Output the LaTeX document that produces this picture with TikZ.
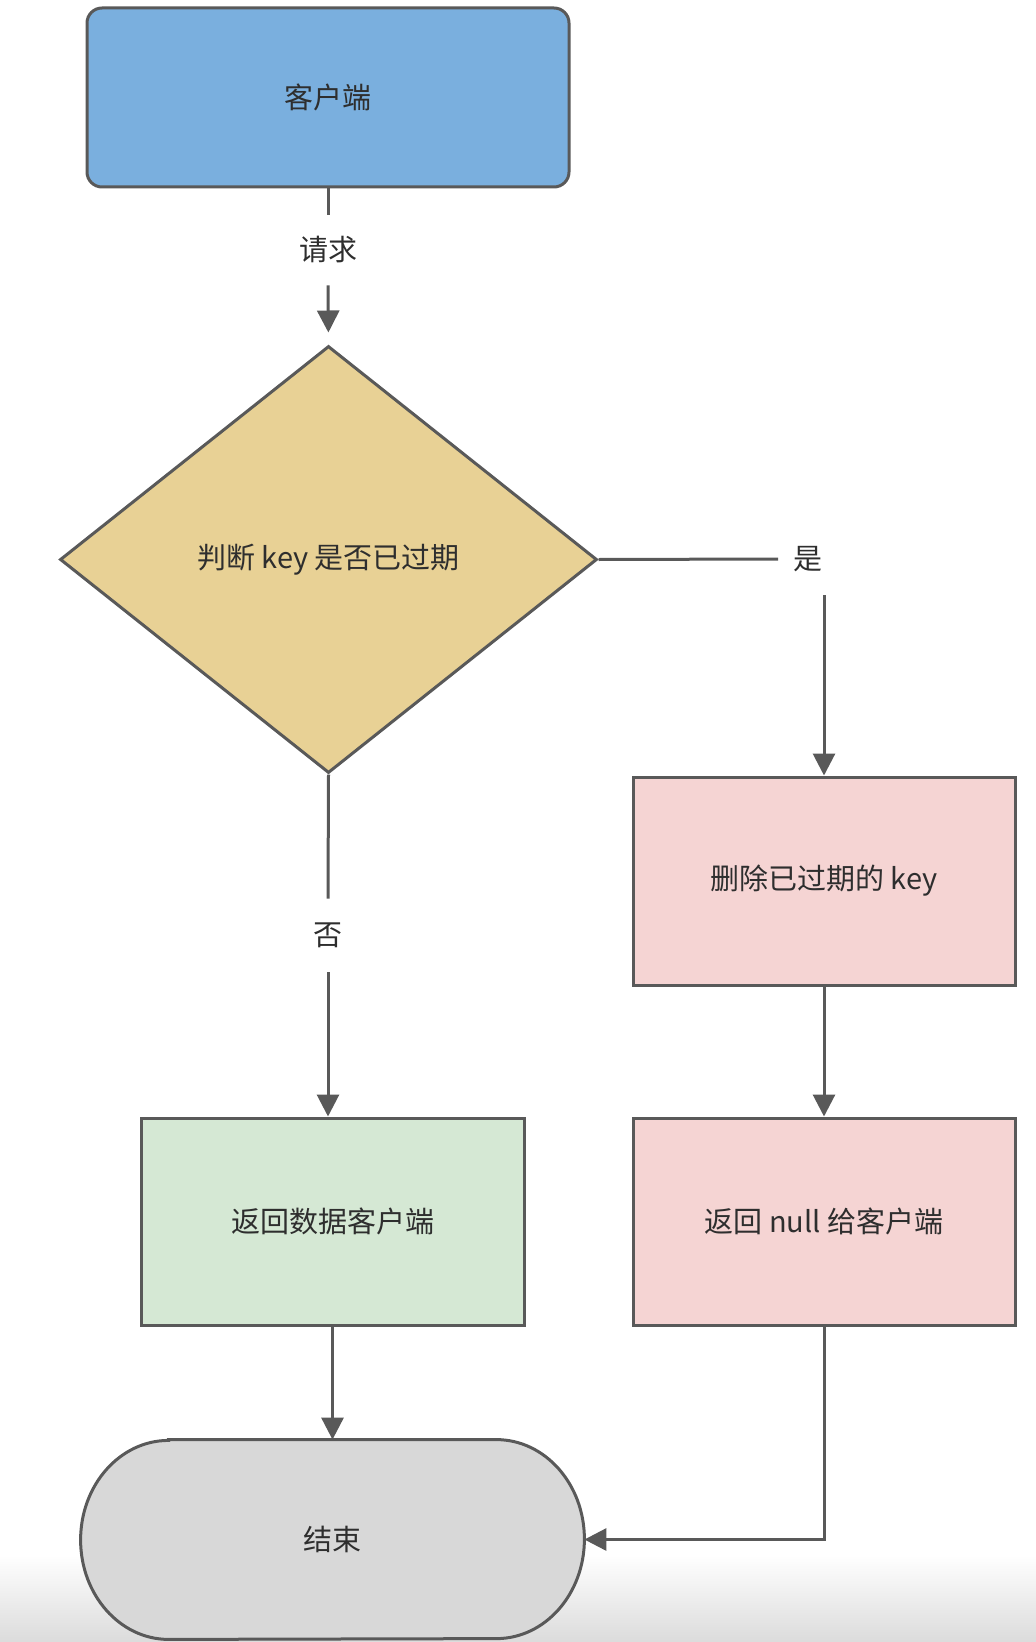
\documentclass[tikz,border=0pt]{standalone}
\usepackage{fontspec}
\setmainfont{Noto Sans CJK SC}
\usetikzlibrary{arrows.meta,shapes.geometric,calc}
\definecolor{linec}{HTML}{595959}
\definecolor{txtc}{HTML}{2E2E2E}
\definecolor{bluef}{HTML}{7AAFDE}
\definecolor{yellowf}{HTML}{E8D195}
\definecolor{pinkf}{HTML}{F5D4D3}
\definecolor{greenf}{HTML}{D5E8D4}
\definecolor{greyf}{HTML}{D8D8D8}
\begin{document}
\begin{tikzpicture}[x=0.5pt,y=-0.5pt,
  every node/.style={text=txtc,font=\fontsize{14.5}{17}\selectfont},
  boxstyle/.style={draw=linec,line width=1.5pt,inner sep=0pt},
  conn/.style={draw=linec,line width=1.5pt},
  arr/.style={conn,-{Triangle[width=11pt,length=11pt]}},
  lbl/.style={fill=white,inner sep=0pt}]
\useasboundingbox (0,0) rectangle (1036,1642);
\shade[top color=white,bottom color=black!14] (0,1555) rectangle (1036,1642);
% nodes
\node[boxstyle,fill=bluef,rounded corners=7.5pt,minimum width=241pt,minimum height=89.5pt] (client) at (328,97.5) {客户端};
\node[boxstyle,fill=yellowf,diamond,minimum width=268.5pt,minimum height=213.5pt] (judge) at (328.5,559.5) {判断 key 是否已过期};
\node[boxstyle,fill=pinkf,minimum width=191pt,minimum height=104pt] (del) at (824,881) {删除已过期的 key};
\node[boxstyle,fill=pinkf,minimum width=191pt,minimum height=103.5pt] (retnull) at (824,1221.5) {返回 null 给客户端};
\node[boxstyle,fill=greenf,minimum width=191.5pt,minimum height=103.5pt] (retdata) at (332.5,1221.5) {返回数据客户端};
\node[inner sep=0pt,minimum width=251.5pt,minimum height=99.5pt] (end) at (332.5,1539.5) {};
\draw[conn,fill=greyf] ($(end.north west)+(44pt,0)$) -- ($(end.north east)+(-44pt,0)$)
  arc[start angle=90,end angle=-90,x radius=44pt,y radius=49.75pt]
  -- ($(end.south west)+(44pt,0)$)
  arc[start angle=270,end angle=90,x radius=44pt,y radius=49.75pt] -- cycle;
\node at (end.center) {结束};
% labels
\node[lbl,minimum height=35pt] (reqlbl) at (328,250) {请求};
\node[lbl] (yeslbl) at (808,559) {是};
\coordinate (yesturn) at (824,595);
\node[lbl,minimum height=36.5pt] (nolbl) at (328,935.5) {否};
% connectors
\draw[conn] (client.south) -- (reqlbl.north);
\draw[arr,shorten >=6pt] (reqlbl.south) -- (judge.north);
\draw[conn] (judge.east) -- ($(yeslbl.west)+(-15,0)$);
\draw[arr] (yesturn) -- (del.north);
\draw[conn] (judge.south) -- (nolbl.north);
\draw[arr] (nolbl.south) -- (nolbl.south |- retdata.north);
\draw[arr] (del.south) -- (retnull.north);
\draw[arr] (retdata.south) -- (end.north);
\draw[arr] (retnull.south) |- (end.east);
\end{tikzpicture}
\end{document}
